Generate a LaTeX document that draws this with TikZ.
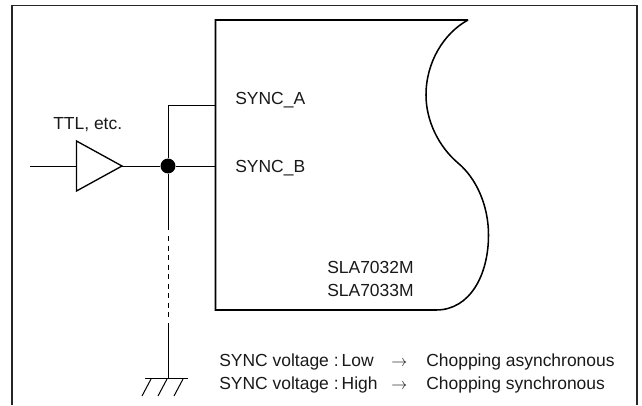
\documentclass[tikz,border=0pt]{standalone}
\usepackage{fontspec}
\setmainfont{Liberation Sans}
\begin{document}
\begin{tikzpicture}[x=0.75pt,y=-0.75pt,
  wire/.style={line width=0.75pt,black},
  heavy/.style={line width=1.15pt,black,line join=miter},
  label/.style={inner sep=0pt,anchor=base west,font=\fontsize{13.1pt}{15pt}\selectfont,text=black!90}]
\useasboundingbox (0,0) rectangle (642,405);
% frame (open at the bottom)
\draw[line width=0.9pt,black!85] (12,405) -- (12,5.5) -- (637,5.5) -- (637,405);
% IC body
\draw[heavy] (468,20) -- (215.5,20) -- (215.5,310) -- (436,310)
  .. controls (470,310) and (488.5,275) .. (488.5,235)
  .. controls (488.5,205) and (476,178) .. (458,163)
  .. controls (438,146) and (426,120) .. (426,95)
  .. controls (426,62) and (444,33) .. (468,20);
% coordinates
\coordinate (in) at (30,166);
\coordinate (gA) at (76.5,141);
\coordinate (gB) at (76.5,191);
\coordinate (gO) at (122,166);
\coordinate (gI) at (76.5,166);
\coordinate (pinB) at (215,166);
\coordinate (pinA) at (215,105);
\coordinate (turn) at (168,105);
\node[circle,fill=black,inner sep=0pt,minimum size=11.2pt] (dot) at (168,166) {};
\coordinate (dashT) at (168,236);
\coordinate (dashB) at (168,323);
\coordinate (gnd) at (168,378.5);
\coordinate (gndL) at (145,378.5);
\coordinate (gndR) at (188,378.5);
% wires
\draw[wire] (in) -- (gI);
\draw[wire] (gO) -- (dot);
\draw[wire] (dot) -- (pinB);
\draw[wire] (pinA) -- (turn) -- (dot);
\draw[wire] (dot) -- (168,230);
\draw[wire,dash pattern=on 3.8pt off 3.35pt] (dashT) -- (168,318);
\draw[wire] (dashB) -- (gnd);
% gate
\draw[line width=1pt,line join=miter] (gA) -- (gO) -- (gB) -- cycle;
% ground
\draw[line width=1.1pt] (gndL) -- (gndR);
\draw[wire] (151,379) -- (142,396) (167,379) -- (158,396) (183,379) -- (174,396);
% text
\node[label] (ttl) at (53,129) {TTL, etc.};
\node[label] (a) at (235,104) {SYNC\_A};
\node[label] (b) at (235,172.5) {SYNC\_B};
\node[label] (m1) at (327,273) {SLA7032M};
\node[label] (m2) at (327,296) {SLA7033M};
\node[label] (l1) at (219,366) {SYNC voltage :\hspace{2.3pt}Low};
\node[label] (l2) at (219,389) {SYNC voltage :\hspace{2.3pt}High};
\node[label] (ar1) at (391,366) {$\rightarrow$};
\node[label] (ar2) at (391,389) {$\rightarrow$};
\node[label] (r1) at (426,366) {Chopping asynchronous};
\node[label] (r2) at (426,389) {Chopping synchronous};
\end{tikzpicture}
\end{document}
